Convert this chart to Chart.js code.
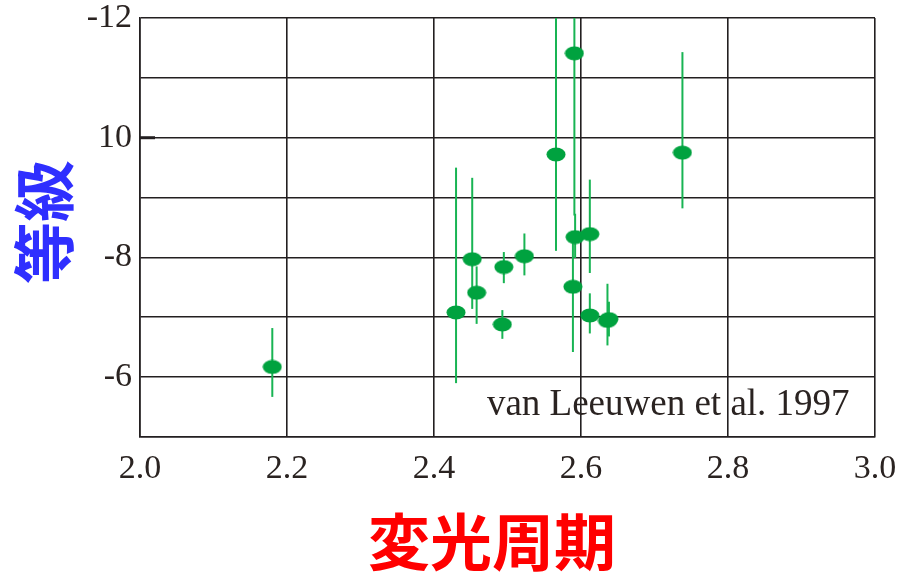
<!DOCTYPE html>
<html>
<head>
<meta charset="utf-8">
<script src="https://cdn.jsdelivr.net/npm/chart.js@4.4.1/dist/chart.umd.min.js"></script>
<style>
  html, body { margin: 0; padding: 0; background: #ffffff; }
  #wrap { width: 907px; height: 575px; }
</style>
</head>
<body>
<div id="wrap"><canvas id="c" width="907" height="575"></canvas></div>
<script>
// log period (x) and absolute magnitude (y) of the Cepheids
const logPeriod = [2.180, 2.430, 2.452, 2.458, 2.493, 2.495, 2.523, 2.566, 2.591, 2.592, 2.589, 2.612, 2.612, 2.636, 2.638, 2.738];
const magnitude = [-6.17, -7.08, -7.97, -7.41, -6.88, -7.84, -8.02, -9.72, -11.41, -8.34, -7.51, -8.39, -7.03, -6.94, -6.97, -9.75];
// error bar ends: bright end and faint end
const magBright = [-6.82, -9.50, -9.33, -7.85, -7.12, -8.09, -8.40, -12.0, -12.0, -8.73, -8.30, -9.30, -7.40, -7.56, -7.26, -11.43];
const magFaint  = [-5.67, -5.90, -7.14, -6.89, -6.64, -7.57, -7.70, -8.11, -8.70, -7.99, -6.42, -7.74, -6.73, -6.53, -6.68, -8.82];

const xTicks = [2.0, 2.2, 2.4, 2.6, 2.8, 3.0];
const yLabelled = [-6, -8, -10, -12];

const xTitle = '変光周期';
const yTitle = '等級';
const note = 'van Leeuwen et al. 1997';

const DOT = '#00a23f';
const BAR = '#18b453';
const GRID = '#231f20';
const TEXT = '#2a2321';

// elliptical marker
const marker = document.createElement('canvas');
marker.width = 20; marker.height = 15;
(function () {
  const g = marker.getContext('2d');
  g.fillStyle = DOT;
  g.beginPath();
  g.ellipse(10, 7.5, 9.5, 7, 0, 0, Math.PI * 2);
  g.fill();
})();

const errorBars = {
  id: 'errorBars',
  beforeDatasetsDraw(chart) {
    const { ctx, chartArea, scales: { x, y } } = chart;
    ctx.save();
    ctx.beginPath();
    ctx.rect(chartArea.left, chartArea.top, chartArea.right - chartArea.left, chartArea.bottom - chartArea.top);
    ctx.clip();
    ctx.strokeStyle = BAR;
    ctx.lineWidth = 2;
    for (let i = 0; i < logPeriod.length; i++) {
      const px = x.getPixelForValue(logPeriod[i]);
      ctx.beginPath();
      ctx.moveTo(px, y.getPixelForValue(magBright[i]));
      ctx.lineTo(px, y.getPixelForValue(magFaint[i]));
      ctx.stroke();
    }
    ctx.restore();
  }
};

const decorations = {
  id: 'decorations',
  afterDraw(chart) {
    const { ctx, chartArea, scales: { x, y } } = chart;
    ctx.save();
    // short stroke at the -10 line on the left edge
    const y10 = y.getPixelForValue(-10);
    ctx.strokeStyle = GRID;
    ctx.lineWidth = 3;
    ctx.beginPath();
    ctx.moveTo(chartArea.left, y10);
    ctx.lineTo(chartArea.left + 15, y10);
    ctx.stroke();

    // source note
    ctx.fillStyle = TEXT;
    ctx.font = '37px "Liberation Serif", "Times New Roman", serif';
    ctx.textAlign = 'left';
    ctx.textBaseline = 'alphabetic';
    ctx.fillText(note, x.getPixelForValue(2.472), y.getPixelForValue(-5.36));

    // axis titles
    ctx.font = 'bold 62px "Noto Sans CJK JP", "Noto Sans CJK SC", sans-serif';
    ctx.textAlign = 'center';
    ctx.textBaseline = 'middle';
    ctx.fillStyle = '#ff0000';
    ctx.fillText(xTitle, 492, 542);

    ctx.translate(44, 222);
    ctx.rotate(-Math.PI / 2);
    ctx.fillStyle = '#2f2fff';
    ctx.fillText(yTitle, 0, 0);
    ctx.restore();
  }
};

const points = logPeriod.map((v, i) => ({ x: v, y: magnitude[i] }));

new Chart(document.getElementById('c'), {
  type: 'scatter',
  data: {
    datasets: [{
      data: points,
      pointStyle: marker,
      pointRadius: 9,
      backgroundColor: DOT,
      borderColor: DOT
    }]
  },
  options: {
    responsive: false,
    animation: false,
    layout: { padding: { top: 18, right: 32, left: 0, bottom: 0 } },
    plugins: { legend: { display: false }, tooltip: { enabled: false } },
    scales: {
      x: {
        type: 'linear',
        min: 2.0, max: 3.0,
        afterBuildTicks(scale) { scale.ticks = xTicks.map(v => ({ value: v })); },
        afterFit(scale) {
          scale.height = 138;
          scale.paddingLeft = 0;
          scale.paddingRight = 0;
        },
        grid: { color: GRID, lineWidth: 1.6, drawTicks: false },
        border: { display: true, color: GRID, width: 1.6 },
        ticks: {
          padding: 12,
          color: TEXT,
          font: { family: '"Liberation Serif", "Times New Roman", serif', size: 34 },
          maxRotation: 0,
          callback: v => Number(v).toFixed(1)
        }
      },
      y: {
        type: 'linear',
        reverse: true,
        min: -12, max: -5,
        ticks: {
          stepSize: 1,
          padding: 8,
          color: TEXT,
          font: { family: '"Liberation Serif", "Times New Roman", serif', size: 34 },
          callback: v => {
            if (!yLabelled.includes(v)) return '';
            return v === -10 ? '10' : String(v);
          }
        },
        afterFit(scale) {
          scale.width = 140;
          scale.paddingTop = 0;
          scale.paddingBottom = 0;
        },
        grid: { color: GRID, lineWidth: 1.6, drawTicks: false },
        border: { display: true, color: GRID, width: 1.6 }
      }
    }
  },
  plugins: [errorBars, decorations]
});
</script>
</body>
</html>
